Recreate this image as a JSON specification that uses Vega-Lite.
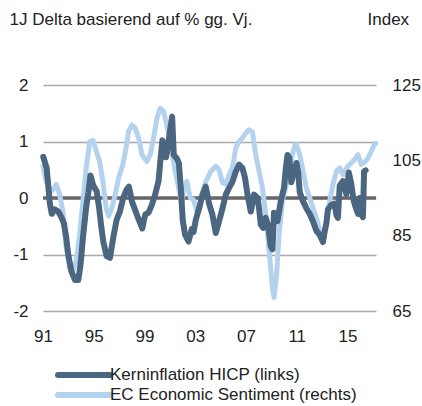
{
  "$schema": "https://vega.github.io/schema/vega-lite/v6.json",
  "width": 333,
  "height": 226,
  "autosize": "none",
  "padding": {"left": 43, "top": 85, "right": 46, "bottom": 95},
  "background": "white",
  "config": {
    "font": "Liberation Sans",
    "view": {"stroke": null},
    "axis": {
      "labelFont": "Liberation Sans",
      "labelFontSize": 17,
      "labelColor": "#222222",
      "titleFont": "Liberation Sans",
      "titleFontSize": 17,
      "titleFontWeight": "normal",
      "titleColor": "#222222",
      "domain": false,
      "ticks": false,
      "labelFlush": false
    },
    "legend": {
      "labelFont": "Liberation Sans",
      "labelFontSize": 17,
      "labelColor": "#222222",
      "labelLimit": 400
    }
  },
  "datasets": {
    "hicp": [
      {"t": 1991.02, "v": 0.73}, {"t": 1991.29, "v": 0.53}, {"t": 1991.53, "v": -0.08}, {"t": 1991.69, "v": -0.28},
      {"t": 1991.92, "v": -0.2}, {"t": 1992.2, "v": -0.24}, {"t": 1992.47, "v": -0.35}, {"t": 1992.65, "v": -0.45},
      {"t": 1992.83, "v": -0.7}, {"t": 1992.99, "v": -1.0}, {"t": 1993.24, "v": -1.3}, {"t": 1993.52, "v": -1.45},
      {"t": 1993.78, "v": -1.45}, {"t": 1993.95, "v": -1.2}, {"t": 1994.15, "v": -0.7}, {"t": 1994.41, "v": -0.15},
      {"t": 1994.58, "v": 0.1}, {"t": 1994.74, "v": 0.4}, {"t": 1994.96, "v": 0.22}, {"t": 1995.23, "v": 0.12},
      {"t": 1995.41, "v": -0.15}, {"t": 1995.59, "v": -0.5}, {"t": 1995.76, "v": -0.78}, {"t": 1996.02, "v": -1.03},
      {"t": 1996.28, "v": -1.06}, {"t": 1996.54, "v": -0.7}, {"t": 1996.8, "v": -0.39}, {"t": 1997.06, "v": -0.24},
      {"t": 1997.32, "v": 0.0}, {"t": 1997.59, "v": 0.15}, {"t": 1997.77, "v": 0.2}, {"t": 1998.01, "v": -0.06},
      {"t": 1998.24, "v": -0.2}, {"t": 1998.54, "v": -0.38}, {"t": 1998.83, "v": -0.54}, {"t": 1998.95, "v": -0.4},
      {"t": 1999.07, "v": -0.29}, {"t": 1999.32, "v": -0.26}, {"t": 1999.58, "v": -0.12}, {"t": 1999.84, "v": 0.06},
      {"t": 2000.11, "v": 0.3}, {"t": 2000.25, "v": 0.65}, {"t": 2000.41, "v": 1.02}, {"t": 2000.57, "v": 0.95},
      {"t": 2000.69, "v": 0.72}, {"t": 2000.84, "v": 0.88}, {"t": 2001.02, "v": 1.2}, {"t": 2001.18, "v": 1.44},
      {"t": 2001.31, "v": 0.76}, {"t": 2001.55, "v": 0.7}, {"t": 2001.71, "v": 0.62}, {"t": 2001.87, "v": 0.15},
      {"t": 2002.02, "v": -0.4}, {"t": 2002.2, "v": -0.65}, {"t": 2002.47, "v": -0.77}, {"t": 2002.73, "v": -0.55},
      {"t": 2002.87, "v": -0.6}, {"t": 2003.05, "v": -0.38}, {"t": 2003.31, "v": -0.18}, {"t": 2003.56, "v": 0.05},
      {"t": 2003.83, "v": 0.2}, {"t": 2004.09, "v": -0.1}, {"t": 2004.36, "v": -0.3}, {"t": 2004.62, "v": -0.62},
      {"t": 2004.88, "v": -0.41}, {"t": 2005.15, "v": -0.18}, {"t": 2005.41, "v": 0.06}, {"t": 2005.67, "v": 0.18},
      {"t": 2005.94, "v": 0.29}, {"t": 2006.2, "v": 0.47}, {"t": 2006.46, "v": 0.59}, {"t": 2006.72, "v": 0.53},
      {"t": 2006.93, "v": 0.35}, {"t": 2007.12, "v": 0.06}, {"t": 2007.38, "v": -0.24}, {"t": 2007.64, "v": 0.06},
      {"t": 2007.91, "v": 0.0}, {"t": 2008.03, "v": -0.18}, {"t": 2008.17, "v": -0.47}, {"t": 2008.35, "v": -0.53},
      {"t": 2008.56, "v": -0.35}, {"t": 2008.76, "v": -0.5}, {"t": 2008.95, "v": -0.85}, {"t": 2009.09, "v": -0.91},
      {"t": 2009.21, "v": -0.26}, {"t": 2009.48, "v": -0.41}, {"t": 2009.74, "v": -0.06}, {"t": 2010.0, "v": 0.18},
      {"t": 2010.13, "v": 0.5}, {"t": 2010.27, "v": 0.76}, {"t": 2010.41, "v": 0.72}, {"t": 2010.58, "v": 0.28},
      {"t": 2010.76, "v": 0.45}, {"t": 2010.98, "v": 0.62}, {"t": 2011.12, "v": 0.45}, {"t": 2011.24, "v": 0.1},
      {"t": 2011.5, "v": -0.06}, {"t": 2011.76, "v": -0.18}, {"t": 2012.02, "v": -0.28}, {"t": 2012.28, "v": -0.41},
      {"t": 2012.55, "v": -0.58}, {"t": 2012.81, "v": -0.65}, {"t": 2013.07, "v": -0.78}, {"t": 2013.2, "v": -0.6},
      {"t": 2013.34, "v": -0.45}, {"t": 2013.46, "v": -0.2}, {"t": 2013.73, "v": -0.12}, {"t": 2013.99, "v": -0.1},
      {"t": 2014.13, "v": -0.3}, {"t": 2014.25, "v": -0.35}, {"t": 2014.39, "v": 0.22}, {"t": 2014.65, "v": 0.3},
      {"t": 2014.91, "v": 0.07}, {"t": 2015.11, "v": 0.45}, {"t": 2015.3, "v": 0.25}, {"t": 2015.49, "v": -0.05},
      {"t": 2015.7, "v": -0.2}, {"t": 2015.83, "v": -0.28}, {"t": 2015.96, "v": 0.0}, {"t": 2016.09, "v": -0.29},
      {"t": 2016.22, "v": -0.34}, {"t": 2016.31, "v": 0.47}, {"t": 2016.43, "v": 0.49}
    ],
    "esi": [
      {"t": 1991.0, "v": 103.4}, {"t": 1991.26, "v": 99.4}, {"t": 1991.65, "v": 96.8}, {"t": 1991.92, "v": 97.7},
      {"t": 1992.05, "v": 98.6}, {"t": 1992.31, "v": 95.9}, {"t": 1992.57, "v": 91.5}, {"t": 1992.83, "v": 81.8},
      {"t": 1993.1, "v": 76.5}, {"t": 1993.36, "v": 75.6}, {"t": 1993.62, "v": 78.3}, {"t": 1993.89, "v": 85.3},
      {"t": 1994.15, "v": 94.2}, {"t": 1994.41, "v": 103.0}, {"t": 1994.68, "v": 110.0}, {"t": 1994.94, "v": 110.3},
      {"t": 1995.2, "v": 107.4}, {"t": 1995.46, "v": 104.7}, {"t": 1995.72, "v": 99.4}, {"t": 1995.98, "v": 92.4},
      {"t": 1996.17, "v": 90.2}, {"t": 1996.43, "v": 92.4}, {"t": 1996.69, "v": 95.9}, {"t": 1996.96, "v": 100.3},
      {"t": 1997.3, "v": 103.9}, {"t": 1997.5, "v": 107.4}, {"t": 1997.75, "v": 112.7}, {"t": 1998.01, "v": 114.4},
      {"t": 1998.27, "v": 113.5}, {"t": 1998.54, "v": 110.9}, {"t": 1998.8, "v": 106.5}, {"t": 1999.19, "v": 104.7},
      {"t": 1999.45, "v": 106.5}, {"t": 1999.72, "v": 110.9}, {"t": 1999.98, "v": 116.2}, {"t": 2000.24, "v": 118.8},
      {"t": 2000.5, "v": 118.0}, {"t": 2000.76, "v": 114.4}, {"t": 2001.16, "v": 107.4}, {"t": 2001.42, "v": 102.1},
      {"t": 2001.69, "v": 97.7}, {"t": 2001.94, "v": 93.3}, {"t": 2002.08, "v": 97.0}, {"t": 2002.34, "v": 99.4},
      {"t": 2002.6, "v": 95.1}, {"t": 2002.87, "v": 94.5}, {"t": 2003.13, "v": 91.5}, {"t": 2003.39, "v": 93.5},
      {"t": 2003.65, "v": 97.7}, {"t": 2003.91, "v": 99.9}, {"t": 2004.23, "v": 102.1}, {"t": 2004.62, "v": 103.4},
      {"t": 2004.88, "v": 102.5}, {"t": 2005.15, "v": 99.0}, {"t": 2005.41, "v": 98.7}, {"t": 2005.67, "v": 101.2},
      {"t": 2005.94, "v": 103.0}, {"t": 2006.2, "v": 108.3}, {"t": 2006.46, "v": 110.0}, {"t": 2006.72, "v": 110.9},
      {"t": 2006.98, "v": 112.2}, {"t": 2007.24, "v": 113.1}, {"t": 2007.51, "v": 112.5}, {"t": 2007.77, "v": 106.5},
      {"t": 2008.03, "v": 102.1}, {"t": 2008.3, "v": 97.7}, {"t": 2008.56, "v": 90.6}, {"t": 2008.82, "v": 80.9},
      {"t": 2009.09, "v": 71.3}, {"t": 2009.21, "v": 68.6}, {"t": 2009.4, "v": 73.9}, {"t": 2009.61, "v": 85.3},
      {"t": 2009.87, "v": 94.2}, {"t": 2010.13, "v": 97.7}, {"t": 2010.39, "v": 101.2}, {"t": 2010.66, "v": 106.5},
      {"t": 2010.87, "v": 109.1}, {"t": 2010.98, "v": 109.2}, {"t": 2011.24, "v": 106.5}, {"t": 2011.5, "v": 102.1},
      {"t": 2011.76, "v": 97.7}, {"t": 2012.02, "v": 95.1}, {"t": 2012.28, "v": 92.4}, {"t": 2012.55, "v": 89.8},
      {"t": 2012.81, "v": 86.2}, {"t": 2013.07, "v": 85.3}, {"t": 2013.34, "v": 88.9}, {"t": 2013.6, "v": 94.2},
      {"t": 2013.86, "v": 98.6}, {"t": 2014.13, "v": 102.1}, {"t": 2014.39, "v": 103.0}, {"t": 2014.65, "v": 101.2},
      {"t": 2015.04, "v": 103.5}, {"t": 2015.3, "v": 104.3}, {"t": 2015.57, "v": 105.2}, {"t": 2015.83, "v": 106.5},
      {"t": 2016.09, "v": 103.9}, {"t": 2016.35, "v": 104.5}, {"t": 2016.61, "v": 105.5}, {"t": 2016.88, "v": 107.4},
      {"t": 2017.1, "v": 109.1}, {"t": 2017.25, "v": 109.5}
    ]
  },
  "layer": [
    {
      "data": {"values": [{"z": 0}]},
      "mark": {"type": "rule", "color": "#6b6664", "strokeWidth": 3.5},
      "encoding": {
        "y": {"field": "z", "type": "quantitative", "scale": {"domain": [-2, 2]}, "axis": null}
      }
    },
    {
      "data": {"name": "esi"},
      "mark": {"type": "line", "strokeWidth": 5, "strokeJoin": "round", "strokeCap": "round"},
      "encoding": {
        "x": {
          "field": "t", "type": "quantitative",
          "scale": {"domain": [1991, 2017.25], "nice": false, "zero": false},
          "axis": {
            "values": [1991, 1995, 1999, 2003, 2007, 2011, 2015],
            "format": "d",
            "labelExpr": "substring(datum.label, 2)",
            "grid": false,
            "labelPadding": 17,
            "title": null
          }
        },
        "y": {
          "field": "v", "type": "quantitative",
          "scale": {"domain": [65, 125], "nice": false, "zero": false},
          "axis": {
            "orient": "right",
            "values": [65, 85, 105, 125],
            "grid": false,
            "labelPadding": 16,
            "labelAlign": "left",
            "title": "Index",
            "titleAngle": 0,
            "titleAlign": "left",
            "titleBaseline": "middle",
            "titleX": -9,
            "titleY": -66
          }
        },
        "stroke": {
          "datum": "EC Economic Sentiment (rechts)",
          "type": "nominal",
          "scale": {
            "domain": ["EC Economic Sentiment (rechts)"],
            "range": ["#b3d2ee"]
          },
          "legend": {
            "title": null,
            "orient": "none",
            "legendX": 12,
            "legendY": 281,
            "symbolType": "stroke",
            "symbolSize": 2704,
            "symbolStrokeWidth": 6,
            "labelOffset": -3,
            "padding": 0,
            "encode": {"symbols": {"update": {"strokeCap": {"value": "round"}}}}
          }
        }
      }
    },
    {
      "data": {"name": "hicp"},
      "mark": {"type": "line", "strokeWidth": 6, "strokeJoin": "round", "strokeCap": "round"},
      "encoding": {
        "x": {"field": "t", "type": "quantitative"},
        "y": {
          "field": "v", "type": "quantitative",
          "scale": {"domain": [-2, 2], "nice": false},
          "axis": {
            "orient": "left",
            "values": [-2, -1, 0, 1, 2],
            "labelExpr": "toString(datum.value)",
            "grid": true,
            "gridColor": "#a8a8a8",
            "gridWidth": 1.5,
            "labelPadding": 15,
            "title": "1J Delta basierend auf % gg. Vj.",
            "titleAngle": 0,
            "titleAlign": "left",
            "titleBaseline": "middle",
            "titleX": -34,
            "titleY": -66
          }
        },
        "color": {
          "datum": "Kerninflation HICP (links)",
          "type": "nominal",
          "scale": {
            "domain": ["Kerninflation HICP (links)"],
            "range": ["#4b6680"]
          },
          "legend": {
            "title": null,
            "orient": "none",
            "legendX": 12,
            "legendY": 261,
            "symbolType": "stroke",
            "symbolSize": 2704,
            "symbolStrokeWidth": 6,
            "labelOffset": -3,
            "padding": 0,
            "encode": {"symbols": {"update": {"strokeCap": {"value": "round"}}}}
          }
        }
      }
    }
  ],
  "resolve": {"scale": {"y": "independent"}}
}
